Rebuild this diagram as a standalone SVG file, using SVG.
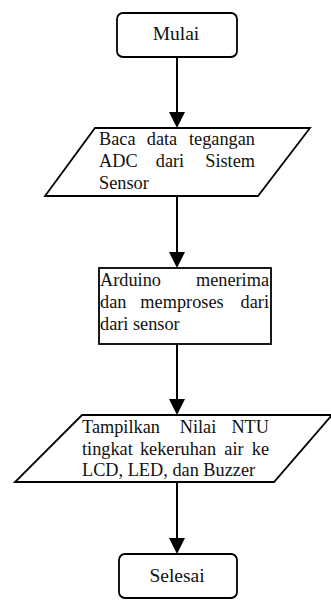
<svg xmlns="http://www.w3.org/2000/svg" width="331" height="605" viewBox="0 0 331 605">
<defs>
<style>
.shape{fill:#fff;stroke:#000;stroke-width:1.8}
.t{font-family:"Liberation Serif","Times New Roman",serif;font-size:18.3px;fill:#111}
.term{font-family:"Liberation Serif","Times New Roman",serif;font-size:19.5px;fill:#111}
.conn{stroke:#000;stroke-width:2;fill:none}
.ah{fill:#000}
</style>
</defs>
<rect width="331" height="605" fill="#fff"/>
<g id="connectors">
<line class="conn" x1="177" y1="57" x2="177" y2="114"/>
<polygon class="ah" points="169,112 185,112 177,128"/>
<line class="conn" x1="177" y1="196" x2="177" y2="254"/>
<polygon class="ah" points="169,252 185,252 177,268"/>
<line class="conn" x1="177" y1="344" x2="177" y2="401"/>
<polygon class="ah" points="169,399 185,399 177,415"/>
<line class="conn" x1="177" y1="482" x2="177" y2="540"/>
<polygon class="ah" points="169,538 185,538 177,554"/>
</g>
<g id="mulai">
<rect class="shape" x="117" y="13" width="120" height="44" rx="6"/>
<text class="term" x="176" y="40" text-anchor="middle">Mulai</text>
</g>
<g id="baca">
<polygon class="shape" points="95,128 310,128 258,196 45,196"/>
<text class="t" y="145"><tspan x="99">Baca</tspan><tspan x="162" text-anchor="middle">data</tspan><tspan x="255" text-anchor="end">tegangan</tspan></text>
<text class="t" y="167"><tspan x="99">ADC</tspan><tspan x="170" text-anchor="middle">dari</tspan><tspan x="255" text-anchor="end">Sistem</tspan></text>
<text class="t" x="99" y="189">Sensor</text>
</g>
<g id="arduino">
<rect class="shape" x="99" y="268" width="172" height="76"/>
<text class="t" y="286"><tspan x="100">Arduino</tspan><tspan x="269" text-anchor="end">menerima</tspan></text>
<text class="t" y="308"><tspan x="100">dan</tspan><tspan x="182" text-anchor="middle">memproses</tspan><tspan x="269" text-anchor="end">dari</tspan></text>
<text class="t" x="100" y="330">dari sensor</text>
</g>
<g id="tampilkan">
<polygon class="shape" points="82,415 332,415 274,482 15,482"/>
<text class="t" y="433"><tspan x="82">Tampilkan</tspan><tspan x="198" text-anchor="middle">Nilai</tspan><tspan x="269" text-anchor="end">NTU</tspan></text>
<text class="t" y="455"><tspan x="82">tingkat</tspan><tspan x="178" text-anchor="middle">kekeruhan</tspan><tspan x="234" text-anchor="middle">air</tspan><tspan x="269" text-anchor="end">ke</tspan></text>
<text class="t" x="82" y="476">LCD, LED, dan Buzzer</text>
</g>
<g id="selesai">
<rect class="shape" x="119" y="554" width="118" height="44" rx="6"/>
<text class="term" x="177" y="582" text-anchor="middle">Selesai</text>
</g>
</svg>
